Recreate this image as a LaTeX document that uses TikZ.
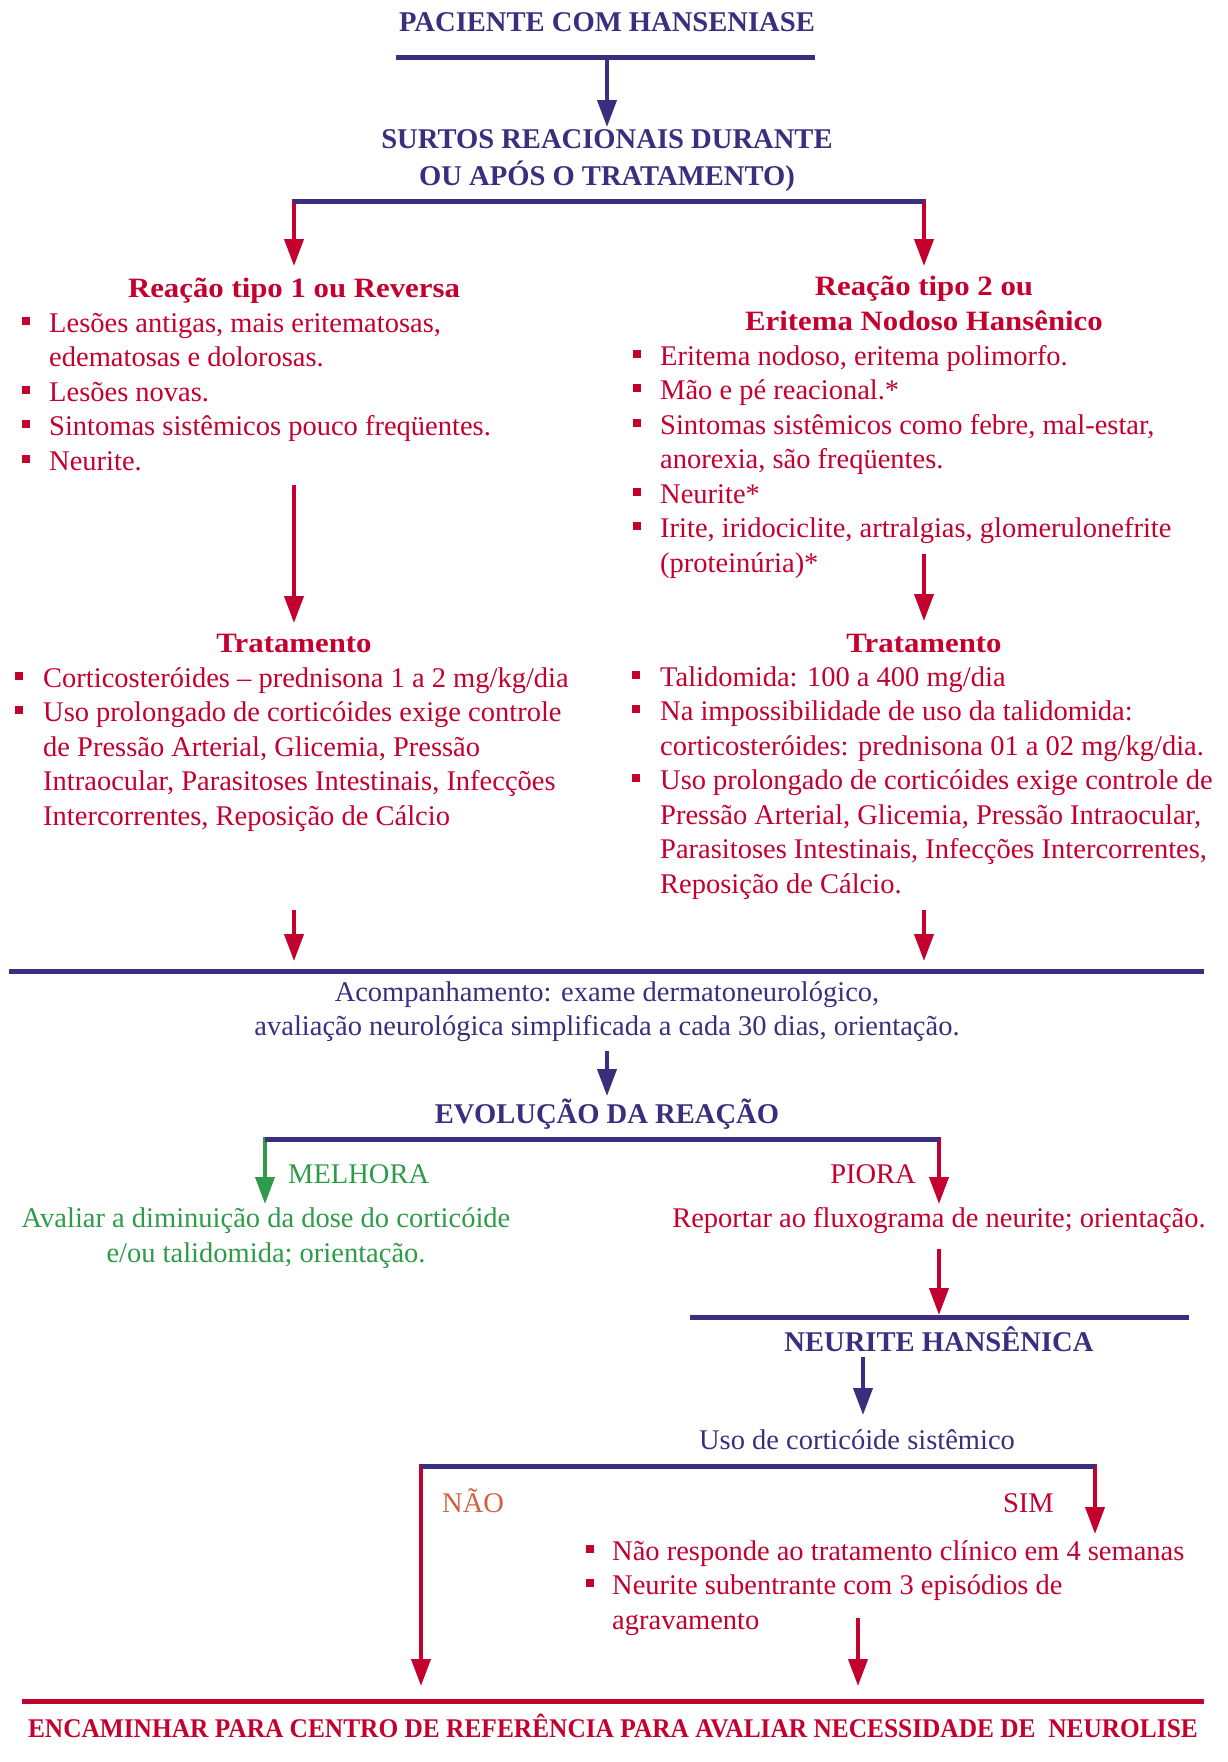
\documentclass[tikz,border=0pt]{standalone}
\usepackage{fontspec}
\setmainfont{Liberation Serif}
\newfontfamily\wideserif{Liberation Serif}[FakeStretch=1.1]
\newfontfamily\condserif{Liberation Serif}[FakeStretch=0.94]
\usetikzlibrary{arrows.meta}
\definecolor{navy}{HTML}{3B2E7E}
\definecolor{rd}{HTML}{C4002F}
\definecolor{grn}{HTML}{2E9B48}
\definecolor{org}{HTML}{D2603E}
\begin{document}
\begin{tikzpicture}[x=1pt,y=-1pt,
  bar/.style={line width=5pt},
  arr/.style={line width=4pt,-{Triangle[length=27pt,width=19pt]}},
  body/.style={inner sep=0pt, anchor=base west, font=\fontsize{28.5}{34}\selectfont},
  bodyc/.style={inner sep=0pt, anchor=base, font=\fontsize{28.5}{34}\selectfont},
  bodye/.style={inner sep=0pt, anchor=base east, font=\fontsize{28.5}{34}\selectfont},
  caps/.style={inner sep=0pt, anchor=base, font=\fontsize{28.6}{34}\selectfont\bfseries},
  subhd/.style={inner sep=0pt, anchor=base, text=rd, font=\fontsize{28}{34}\selectfont\wideserif\bfseries},
  sq/.style={fill=rd, inner sep=0pt, minimum size=8pt, draw=none},
]
\useasboundingbox (0,0) rectangle (1227,1762);

% ---- top
\node[caps, text=navy] (title) at (607,31.5) {PACIENTE COM HANSENIASE};
\coordinate (bar1L) at (396,57); \coordinate (bar1R) at (815,57);
\draw[bar, navy] (bar1L) -- (bar1R);
\coordinate (a1s) at (607,57); \coordinate (a1e) at (607,127);
\draw[arr, navy] (a1s) -- (a1e);
\node[caps, text=navy] (surtos1) at (607,148) {SURTOS REACIONAIS DURANTE};
\node[caps, text=navy] (surtos2) at (607,185) {OU APÓS O TRATAMENTO)};

% ---- split into two reactions
\coordinate (b2L) at (294,199); \coordinate (b2R) at (924,199);
\coordinate (t1) at (294,266); \coordinate (t2) at (924,266);
\draw[arr, rd] (b2L) -- (t1);
\draw[arr, rd] (b2R) -- (t2);
\draw[bar, navy] (293,201) -- (924,201);

% ---- left: reaction type 1
\node[subhd] (r1h) at (294,297) {Reação tipo 1 ou Reversa};
\node[sq] (r1b1) at (26,320.5) {};
\node[body, text=rd] (r1l1) at (49,332) {Lesões antigas, mais eritematosas,};
\node[body, text=rd] (r1l2) at (49,366.5) {edematosas e dolorosas.};
\node[sq] (r1b2) at (26,389.5) {};
\node[body, text=rd] (r1l3) at (49,401) {Lesões novas.};
\node[sq] (r1b3) at (26,424) {};
\node[body, text=rd] (r1l4) at (49,435.5) {Sintomas sistêmicos pouco freqüentes.};
\node[sq] (r1b4) at (26,458.5) {};
\node[body, text=rd] (r1l5) at (49,470) {Neurite.};

% ---- right: reaction type 2
\node[subhd] (r2h1) at (924,295) {Reação tipo 2 ou};
\node[subhd] (r2h2) at (924,330) {Eritema Nodoso Hansênico};
\node[sq] (r2b1) at (637,353.5) {};
\node[body, text=rd] (r2l1) at (660,365) {Eritema nodoso, eritema polimorfo.};
\node[sq] (r2b2) at (637,388) {};
\node[body, text=rd] (r2l2) at (660,399.5) {Mão e pé reacional.*};
\node[sq] (r2b3) at (637,422.5) {};
\node[body, text=rd] (r2l3) at (660,434) {Sintomas sistêmicos como febre, mal-estar,};
\node[body, text=rd] (r2l4) at (660,468.5) {anorexia, são freqüentes.};
\node[sq] (r2b4) at (637,491.5) {};
\node[body, text=rd] (r2l5) at (660,503) {Neurite*};
\node[sq] (r2b5) at (637,526) {};
\node[body, text=rd] (r2l6) at (660,537.5) {Irite, iridociclite, artralgias, glomerulonefrite};
\node[body, text=rd] (r2l7) at (660,572) {(proteinúria)*};

% ---- arrows to treatment
\coordinate (a2s) at (294,485); \coordinate (a2e) at (294,623);
\draw[arr, rd] (a2s) -- (a2e);
\coordinate (a3s) at (924,554); \coordinate (a3e) at (924,621);
\draw[arr, rd] (a3s) -- (a3e);

% ---- left treatment
\node[subhd] (tr1h) at (294,652) {Tratamento};
\node[sq] (tr1b1) at (19,675.5) {};
\node[body, text=rd] (tr1l1) at (43,687) {Corticosteróides – prednisona 1 a 2 mg/kg/dia};
\node[sq] (tr1b2) at (19,710) {};
\node[body, text=rd] (tr1l2) at (43,721.5) {Uso prolongado de corticóides exige controle};
\node[body, text=rd] (tr1l3) at (43,756) {de Pressão Arterial, Glicemia, Pressão};
\node[body, text=rd] (tr1l4) at (43,790.5) {Intraocular, Parasitoses Intestinais, Infecções};
\node[body, text=rd] (tr1l5) at (43,825) {Intercorrentes, Reposição de Cálcio};

% ---- right treatment
\node[subhd] (tr2h) at (924,652) {Tratamento};
\node[sq] (tr2b1) at (636,674.5) {};
\node[body, text=rd] (tr2l1) at (660,686) {Talidomida: 100 a 400 mg/dia};
\node[sq] (tr2b2) at (636,709) {};
\node[body, text=rd] (tr2l2) at (660,720.5) {Na impossibilidade de uso da talidomida:};
\node[body, text=rd] (tr2l3) at (660,755) {corticosteróides: prednisona 01 a 02 mg/kg/dia.};
\node[sq] (tr2b3) at (636,778) {};
\node[body, text=rd] (tr2l4) at (660,789.5) {Uso prolongado de corticóides exige controle de};
\node[body, text=rd] (tr2l5) at (660,824) {Pressão Arterial, Glicemia, Pressão Intraocular,};
\node[body, text=rd] (tr2l6) at (660,858.5) {Parasitoses Intestinais, Infecções Intercorrentes,};
\node[body, text=rd] (tr2l7) at (660,893) {Reposição de Cálcio.};

% ---- arrows to follow-up
\coordinate (a4s) at (294,910); \coordinate (a4e) at (294,961);
\draw[arr, rd] (a4s) -- (a4e);
\coordinate (a5s) at (924,910); \coordinate (a5e) at (924,961);
\draw[arr, rd] (a5s) -- (a5e);
\draw[bar, navy] (9,971) -- (1204,971);

\node[bodyc, text=navy] (ac1) at (607,1001) {Acompanhamento: exame dermatoneurológico,};
\node[bodyc, text=navy] (ac2) at (607,1035) {avaliação neurológica simplificada a cada 30 dias, orientação.};
\coordinate (a6s) at (607,1051); \coordinate (a6e) at (607,1096);
\draw[arr, navy] (a6s) -- (a6e);
\node[caps, text=navy] (evo) at (607,1123) {EVOLUÇÃO DA REAÇÃO};

% ---- evolution split
\coordinate (b4L) at (265,1137); \coordinate (b4R) at (939,1137);
\coordinate (t4L) at (265,1204); \coordinate (t4R) at (939,1204);
\draw[arr, grn] (b4L) -- (t4L);
\draw[arr, rd] (b4R) -- (t4R);
\draw[bar, navy] (265,1139) -- (939,1139);
\node[body, text=grn] (mel) at (288,1183) {MELHORA};
\node[bodye, text=rd] (pio) at (916,1183) {PIORA};
\node[bodyc, text=grn] (av1) at (266,1227) {Avaliar a diminuição da dose do corticóide};
\node[bodyc, text=grn] (av2) at (266,1262) {e/ou talidomida; orientação.};
\node[bodyc, text=rd] (rep) at (939,1227) {Reportar ao fluxograma de neurite; orientação.};

\coordinate (a7s) at (939,1249); \coordinate (a7e) at (939,1315);
\draw[arr, rd] (a7s) -- (a7e);
\draw[bar, navy] (690,1317) -- (1189,1317);
\node[caps, text=navy] (neu) at (939,1351) {NEURITE HANSÊNICA};
\coordinate (a8s) at (863,1357); \coordinate (a8e) at (863,1415);
\draw[arr, navy] (a8s) -- (a8e);
\node[bodyc, text=navy] (uso) at (857,1449) {Uso de corticóide sistêmico};

% ---- corticoid split
\coordinate (b6L) at (421,1464); \coordinate (b6R) at (1095,1464);
\coordinate (t6L) at (421,1686); \coordinate (t6R) at (1095,1534);
\draw[arr, rd] (b6L) -- (t6L);
\draw[arr, rd] (b6R) -- (t6R);
\draw[bar, navy] (421,1466) -- (1095,1466);
\node[body, text=org] (nao) at (442,1512) {NÃO};
\node[bodye, text=rd] (sim) at (1054,1512) {SIM};
\node[sq] (sb1) at (590,1548.5) {};
\node[body, text=rd] (sl1) at (612,1560) {Não responde ao tratamento clínico em 4 semanas};
\node[sq] (sb2) at (590,1583) {};
\node[body, text=rd] (sl2) at (612,1594.5) {Neurite subentrante com 3 episódios de};
\node[body, text=rd] (sl3) at (612,1629) {agravamento};
\coordinate (a9s) at (858,1618); \coordinate (a9e) at (858,1686);
\draw[arr, rd] (a9s) -- (a9e);

% ---- bottom
\draw[bar, rd] (22,1701) -- (1204,1701);
\node[inner sep=0pt, anchor=base, text=rd, font=\fontsize{27}{34}\selectfont\condserif\bfseries] (enc) at (613,1737) {ENCAMINHAR PARA CENTRO DE REFERÊNCIA PARA AVALIAR NECESSIDADE DE\ \ NEUROLISE};
\end{tikzpicture}
\end{document}
